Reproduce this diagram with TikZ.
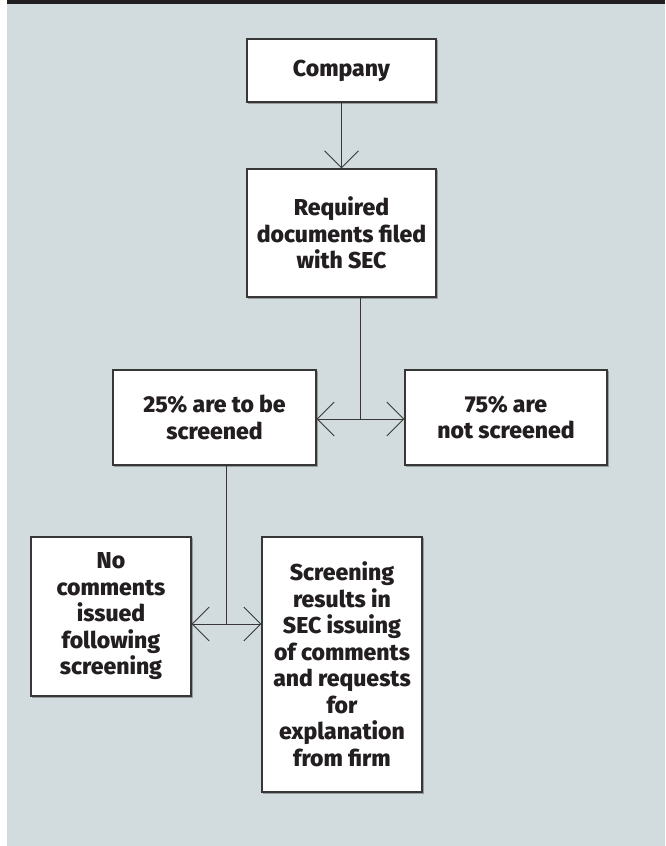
\documentclass[tikz,border=0pt]{standalone}
\usepackage{fontspec}
\setmainfont{Fira Sans}[BoldFont={Fira Sans ExtraBold}]
\usetikzlibrary{arrows.meta}
\definecolor{bg}{RGB}{210,220,222}
\definecolor{ink}{RGB}{35,31,32}
\definecolor{edgecol}{RGB}{55,55,55}
\definecolor{shadowcol}{RGB}{150,155,158}
\begin{document}
\begin{tikzpicture}[x=1pt,y=-1pt,
  box/.style={draw=edgecol, line width=1.1pt, fill=white, inner sep=0pt, align=center,
    font=\fontsize{23}{26.5}\selectfont\bfseries, text=ink,
    preaction={draw=shadowcol, line width=1.1pt, transform canvas={xshift=1.2pt,yshift=-1.2pt}}},
  conn/.style={draw=edgecol, line width=0.9pt},
  tip/.style={-{Straight Barb[length=17pt,width=34pt,line width=0.9pt]}}]
\useasboundingbox (0,0) rectangle (665,846);
\fill[white] (0,0) rectangle (665,846);
\fill[bg] (7,4) rectangle (665,846);
\fill[ink] (7,0) rectangle (665,4);

\node[box, minimum width=189pt, minimum height=63pt] (comp) at (341.5,70.5) {Company};
\node[box, minimum width=189pt, minimum height=128pt] (req) at (341.5,233) {Required\\documents filed\\with SEC};
\node[box, minimum width=203pt, minimum height=95pt] (s25) at (214.5,417.5) {25\% are to be\\screened};
\node[box, minimum width=202pt, minimum height=95pt] (n75) at (506,417.5) {75\% are\\not screened};
\node[box, minimum width=160pt, minimum height=159pt] (noc) at (111,616.5) {No\\comments\\issued\\following\\screening};
\node[box, minimum width=160pt, minimum height=255pt] (scr) at (342,664.5) {Screening\\results in\\SEC issuing\\of comments\\and requests\\for\\explanation\\from firm};

\draw[conn,tip] (comp) -- (req);
\coordinate (j1) at (360,419);
\draw[conn] (req.south -| j1) -- (j1);
\draw[conn,tip] (j1) -- (j1 -| s25.east);
\draw[conn,tip] (j1) -- (j1 -| n75.west);
\coordinate (j2) at (226,624);
\draw[conn] (s25.south -| j2) -- (j2);
\draw[conn,tip] (j2) -- (j2 -| noc.east);
\draw[conn,tip] (j2) -- (j2 -| scr.west);
\end{tikzpicture}
\end{document}
